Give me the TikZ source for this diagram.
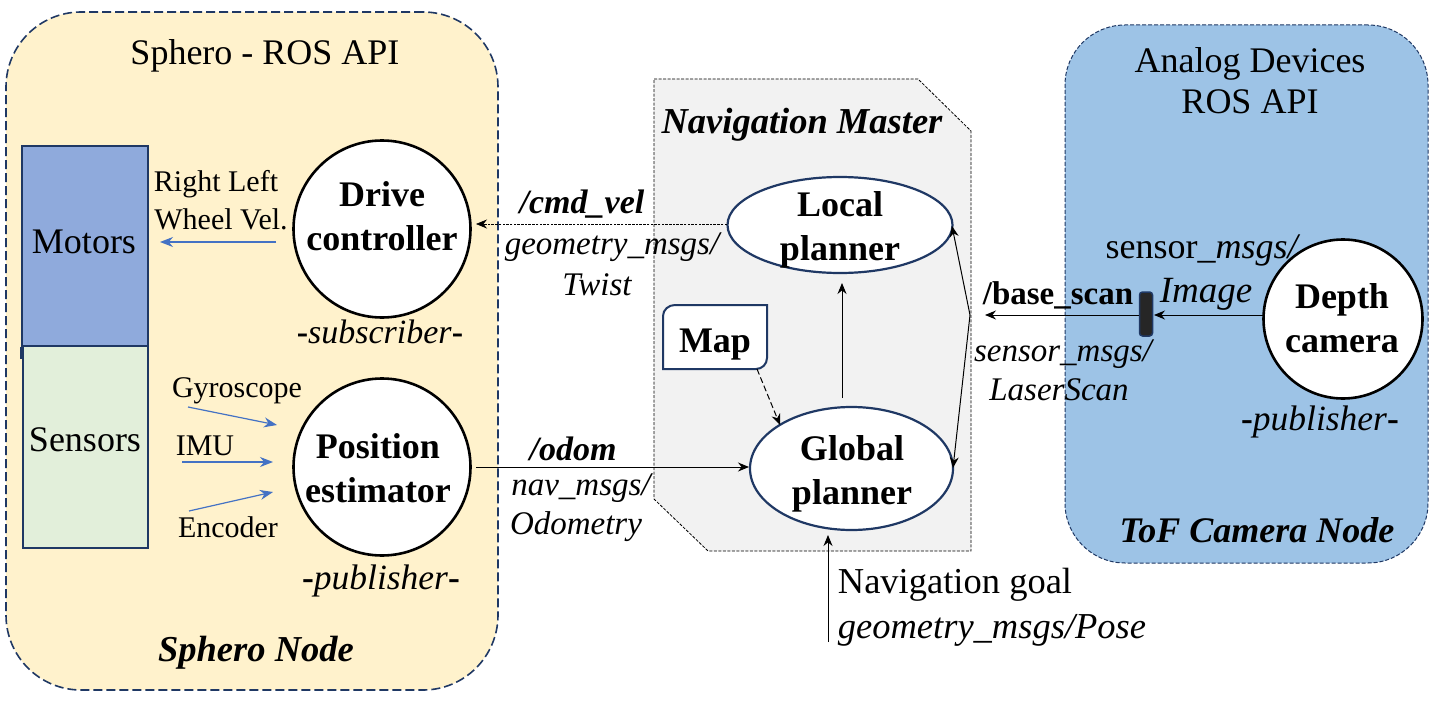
\documentclass[tikz,border=0pt]{standalone}
\usepackage{fontspec}
\setmainfont{Liberation Serif}
\usetikzlibrary{arrows.meta,shapes.geometric}
\definecolor{navy}{HTML}{1F3864}
\definecolor{panelY}{HTML}{FFF2CC}
\definecolor{panelB}{HTML}{9DC3E6}
\definecolor{navG}{HTML}{F2F2F2}
\definecolor{motorB}{HTML}{8FAADC}
\definecolor{sensG}{HTML}{E2EFDA}
\definecolor{arrB}{HTML}{4472C4}
\newcommand{\fs}[2]{\fontsize{#1pt}{#2pt}\selectfont}
\tikzset{
  x=1pt,y=-1pt,
  txt/.style={inner sep=0pt,outer sep=0pt,align=center,text=black},
  big/.style={txt,font=\fs{36}{41}},
  msg/.style={txt,font=\fs{33}{38}\itshape},
  msgl/.style={txt,font=\fs{36.5}{42}\itshape},
  small/.style={txt,font=\fs{30}{36}},
  bi/.style={txt,font=\fs{36.5}{42}\bfseries\itshape},
  bis/.style={txt,font=\fs{34}{38}\bfseries\itshape},
  circ/.style={circle,draw=black,line width=2.6pt,fill=white,minimum size=#1,inner sep=0pt},
  plan/.style={ellipse,draw=navy,line width=2.2pt,fill=white,inner sep=0pt},
  boldtxt/.style={txt,font=\fs{36}{44}\bfseries},
  blk/.style={-{Stealth[length=11pt,width=9pt]},line width=1pt,black},
  blu/.style={-{Stealth[length=13pt,width=10pt]},line width=1.2pt,arrB},
  blockbox/.style={rectangle,draw=navy,line width=2.2pt,inner sep=0pt,minimum width=126pt},
}
\begin{document}
\begin{tikzpicture}
\useasboundingbox[fill=white] (0,0) rectangle (1438,701);
% panels
\node[rectangle,rounded corners=75pt,draw=navy,line width=1.6pt,dash pattern=on 9pt off 4pt,fill=panelY,minimum width=492pt,minimum height=678pt,inner sep=0pt] (sphero) at (252,351) {};
\node[rectangle,rounded corners=60pt,draw=navy,line width=1pt,dash pattern=on 4pt off 2pt,fill=panelB,minimum width=363pt,minimum height=538pt,inner sep=0pt] (tof) at (1246.5,294) {};
\draw[black,line width=0.8pt,dash pattern=on 3pt off 1.5pt,fill=navG] (654,79) -- (918,79) -- (971,131) -- (971,551) -- (708,551) -- (654,499) -- cycle;
% blocks
\node[blockbox,fill=motorB,minimum height=200pt] (motors) at (85,246) {};
\draw[navy,line width=2.2pt] (motors.south west) -- ++(0,12);
\node[blockbox,fill=sensG,minimum height=202pt,minimum width=125pt] (sensors) at (85.5,447) {};
\node[big] (motorstxt) at (84,242) {Motors};
\node[big] (sensorstxt) at (85,440) {Sensors};
% circles
\node[circ=177pt] (drive) at (382,229) {};
\node[boldtxt] (drivetxt) at (382,216) {Drive\\controller};
\node[circ=177pt] (pos) at (382,467) {};
\node[boldtxt] (postxt) at (378,468) {Position\\estimator};
\node[circ=159pt] (depth) at (1343,319) {};
\node[boldtxt] (depthtxt) at (1342,318) {Depth\\camera};
% planners
\node[plan,minimum width=225pt,minimum height=96pt] (local) at (840,225) {};
\node[boldtxt] (localtxt) at (840,230) {Local\\planner};
\node[plan,minimum width=203pt,minimum height=123pt] (global) at (851.5,468.5) {};
\node[boldtxt] (globaltxt) at (852,474) {Global\\planner};
% map
\draw[navy,line width=2pt,fill=white] (663,369) -- (663,316) to[out=90,in=180] (675,305) -- (767,305) -- (767,358) to[out=-90,in=0] (756,369) -- cycle;
\node[txt,font=\fs{36}{42}\bfseries,minimum width=104pt,minimum height=64pt] (map) at (715,345) {Map};
% sensor bar
\node[rectangle,rounded corners=3pt,draw=navy,line width=1.5pt,fill=black!85,minimum width=13pt,minimum height=44pt,inner sep=0pt] (bar) at (1146,314) {};
% free ends
\coordinate (scanend) at (985,315);
\coordinate (split) at (970,315);
\coordinate (goalstart) at (828,642);
\coordinate (goalend) at (828,535);
\coordinate (lineup) at (842,398);
\coordinate (lineupend) at (842,283);
\coordinate (mapstart) at (757,369);
\coordinate (mapend) at (780,425);
\coordinate (splittop) at (952,226);
\coordinate (splitbot) at (953,468);
\coordinate (driveend) at (476,224);
\coordinate (localw) at (727,224);
\coordinate (posout) at (476,467);
\coordinate (globalw) at (749,467);
\coordinate (depthw) at (1263,315);
\coordinate (barin) at (1154,315);
\coordinate (barout) at (1139,315);
% black connectors
\draw[blk,line width=0.7pt,dash pattern=on 2.5pt off 1.2pt] (localw) -- (driveend);
\draw[blk] (posout) -- (globalw);
\draw[blk] (lineup) -- (lineupend);
\draw[blk] (goalstart) -- (goalend);
\draw[blk,dash pattern=on 6pt off 3pt] (mapstart) -- (mapend);
\draw[blk] (split) -- (splittop);
\draw[blk] (split) -- (splitbot);
\draw[blk] (barout) -- (scanend);
\draw[blk] (depthw) -- (barin);
% blue arrows
\coordinate (wa) at (276,242); \coordinate (wb) at (160,242);
\coordinate (ga) at (188,407); \coordinate (gb) at (277,425);
\coordinate (ia) at (182,462); \coordinate (ib) at (273,462);
\coordinate (ea) at (189,511); \coordinate (eb) at (273,492);
\draw[blu] (wa) -- (wb);
\draw[blu] (ga) -- (gb);
\draw[blu] (ia) -- (ib);
\draw[blu] (ea) -- (eb);
% titles
\node[big] (t1) at (265,56) {Sphero - ROS API};
\node[big] (t2) at (1250,81) {Analog Devices\\ROS API};
\node[bi] (t3) at (802,125) {Navigation Master};
\node[bi] (t4) at (256,653) {Sphero Node};
\node[bi,font=\fs{36}{42}\bfseries\itshape] (t5) at (1257,530) {ToF Camera Node};
% labels
\node[small] (l1a) at (216,184) {Right Left};
\node[small] (l1b) at (221,219) {Wheel Vel.};
\node[small] (l2) at (237,391) {Gyroscope};
\node[small] (l3) at (205,446) {IMU};
\node[small] (l4) at (228,527) {Encoder};
\node[txt,font=\fs{34}{38}] (s1) at (380,332) {\textbf{-}\textit{subscriber}\textbf{-}};
\node[txt,font=\fs{35.5}{38}] (s2) at (381,581) {\textbf{-}\textit{publisher}\textbf{-}};
\node[txt,font=\fs{35.5}{38}] (s3) at (1320,422) {\textbf{-}\textit{publisher}\textbf{-}};
\node[bis] (c1) at (582,204) {/cmd\_vel};
\node[msg] (c2) at (612,247) {geometry\_msgs/};
\node[msg] (c3) at (597,285) {Twist};
\node[bis] (o1) at (573,449) {/odom};
\node[msg] (o2) at (581,488) {nav\_msgs/};
\node[msg] (o3) at (576,527) {Odometry};
\node[txt,font=\fs{33}{38}\bfseries] (b1) at (1058,295) {/base\_scan};
\node[msg] (b2) at (1063,354) {sensor\_msgs/};
\node[msg] (b3) at (1059,390) {LaserScan};
\node[txt,font=\fs{36}{40}] (i1) at (1203,250) {sensor\_\textit{msgs/}};
\node[txt,font=\fs{37}{40}\itshape] (i2) at (1206,294) {Image};
\node[txt,font=\fs{36.5}{42}] (g1) at (955,585) {Navigation goal};
\node[msgl] (g2) at (992,630) {geometry\_msgs/Pose};
\end{tikzpicture}
\end{document}
